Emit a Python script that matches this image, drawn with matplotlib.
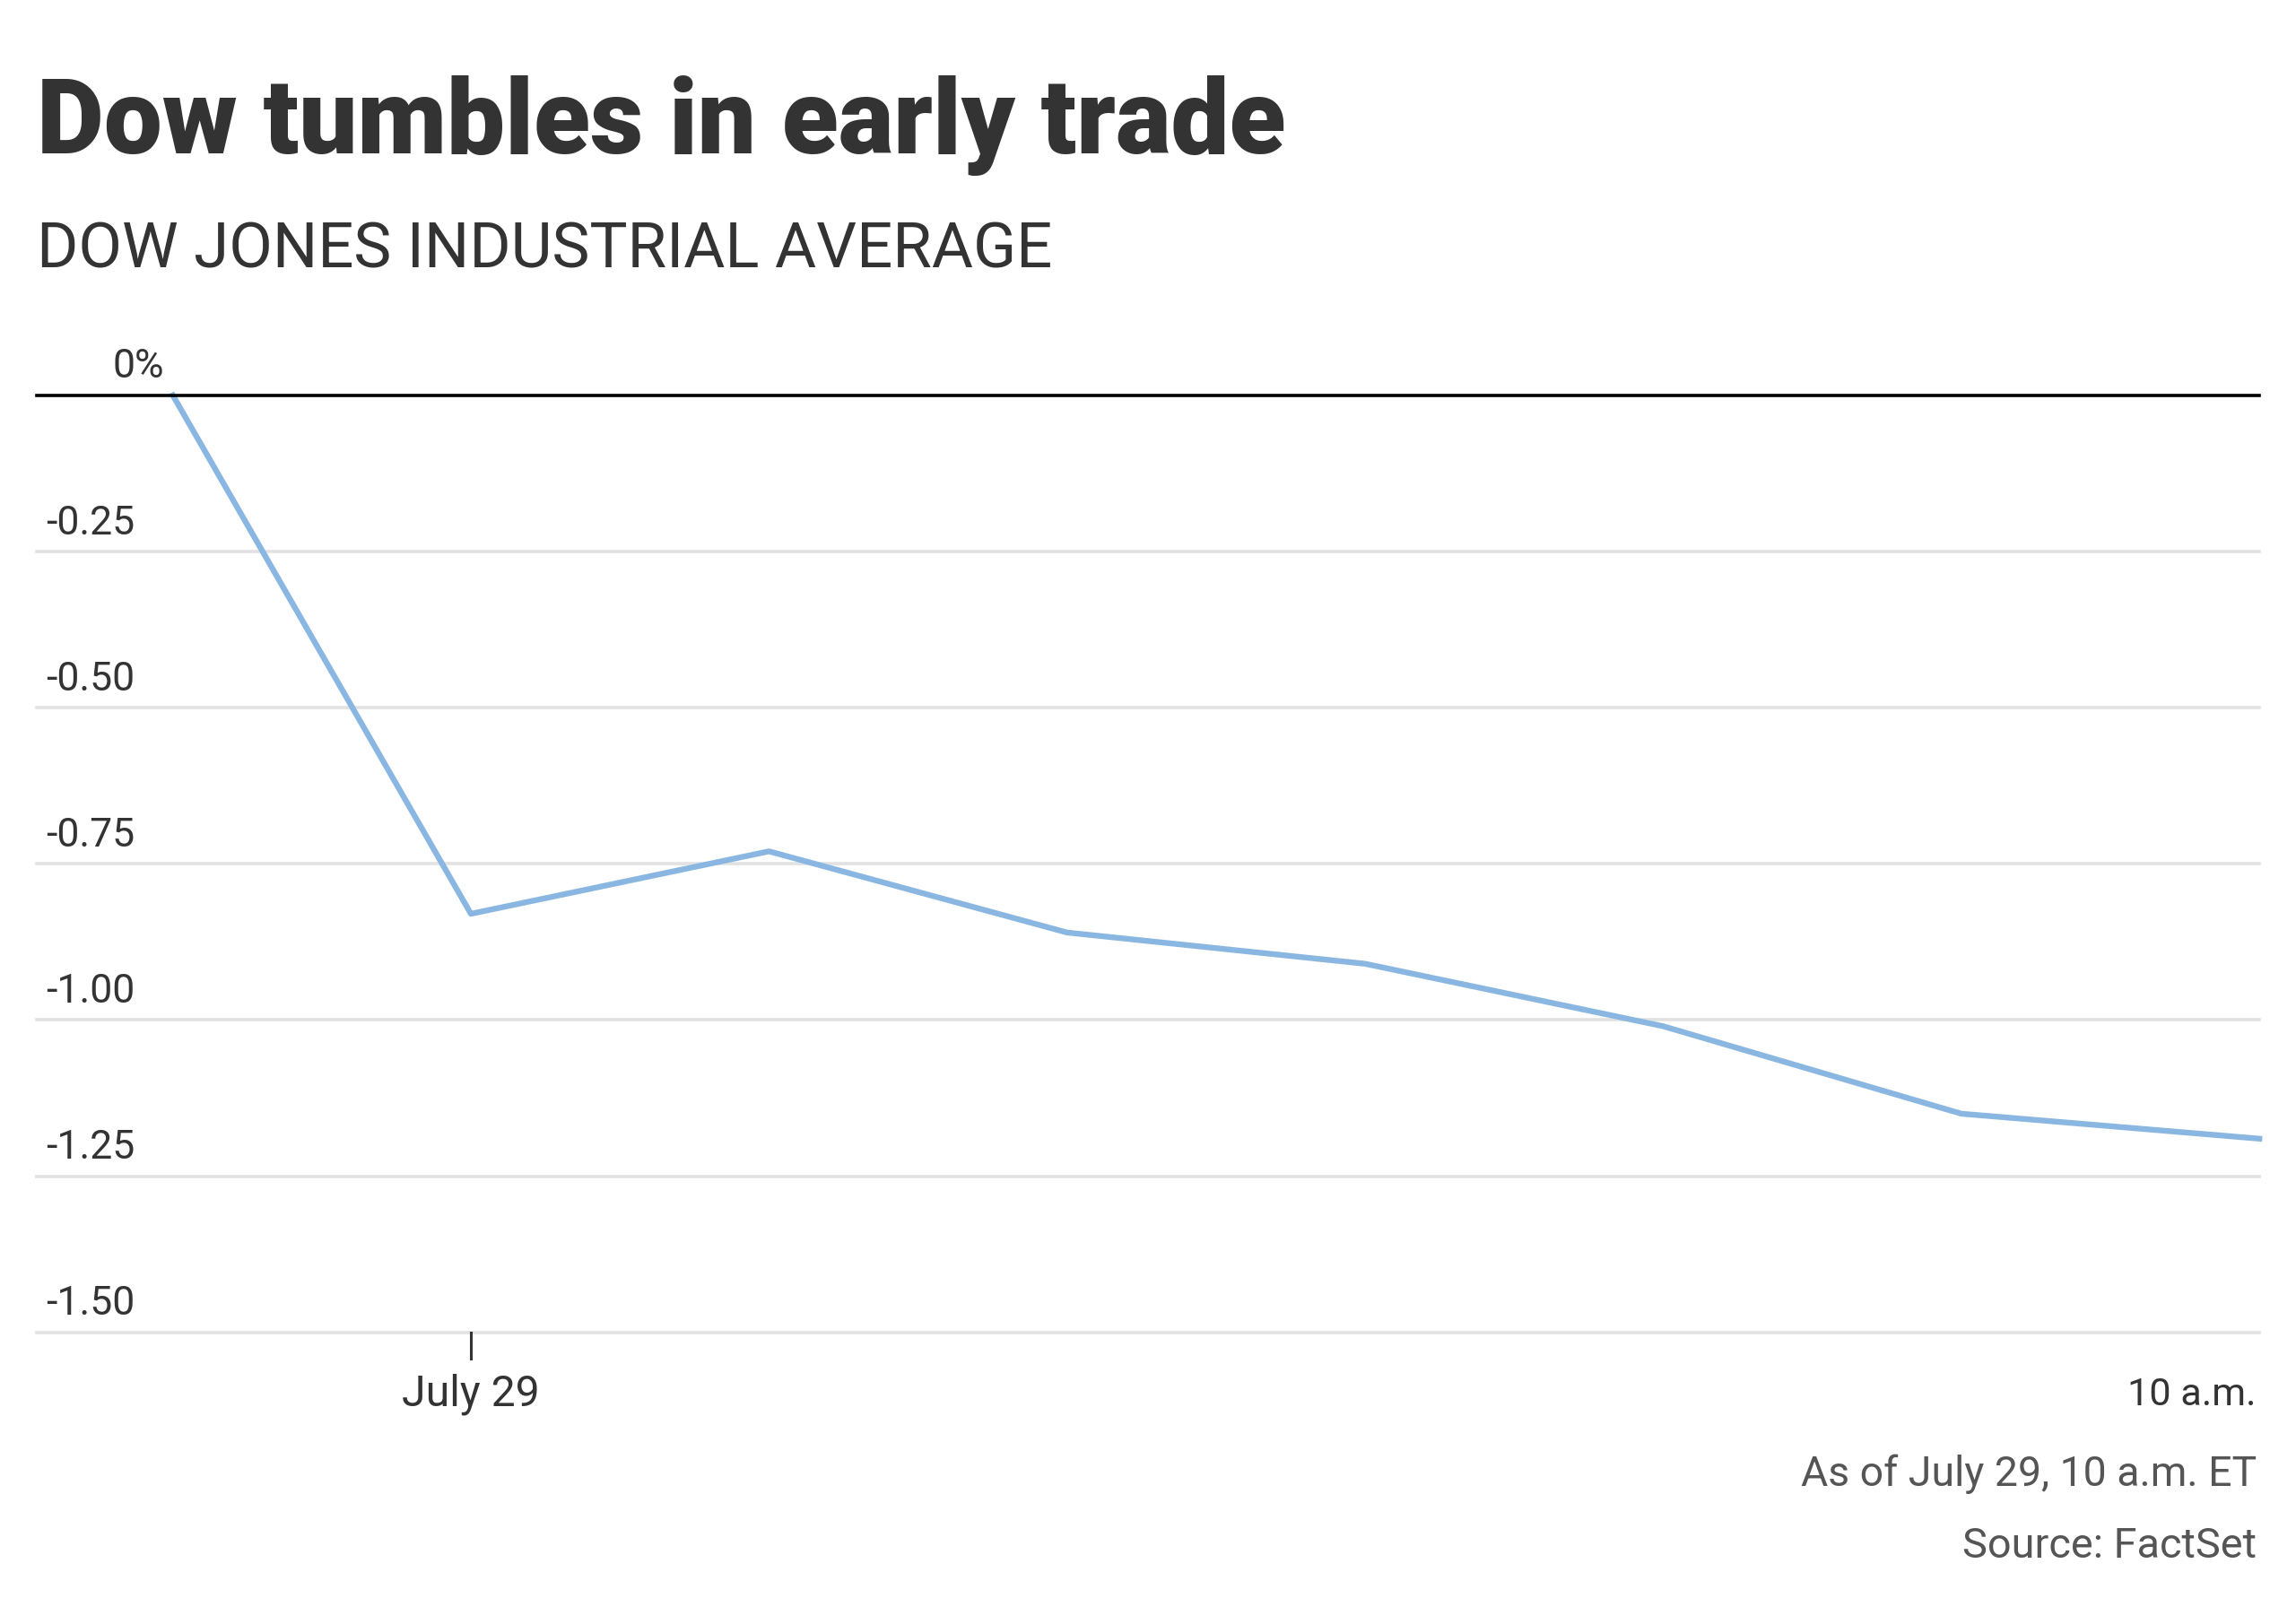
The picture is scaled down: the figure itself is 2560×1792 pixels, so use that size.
"""Dow intraday change chart."""
import matplotlib
matplotlib.use("Agg")
import matplotlib.pyplot as plt

# Data
steps = [0, 1, 2, 3, 4, 5, 6, 7]
pct_change = [0.0, -0.83, -0.73, -0.86, -0.91, -1.01, -1.15, -1.19]
ytick_values = [-0.25, -0.50, -0.75, -1.00, -1.25, -1.50]
ytick_labels = ["-0.25", "-0.50", "-0.75", "-1.00", "-1.25", "-1.50"]
xtick_pos = [1]
xtick_labels = ["July 29"]

TITLE = "Dow tumbles in early trade"
SUBTITLE = "DOW JONES INDUSTRIAL AVERAGE"
NOTE = "As of July 29, 10 a.m. ET"
SOURCE = "Source: FactSet"

W, H = 2560, 1792
S = W / 1568  # reference was measured at 1568 px wide

FAMILY = ["Roboto", "DejaVu Sans"]

TXT = "#333333"
GREY = "#555555"
LINE = "#8ab7e1"
GRID = "#e2e2e2"

fig = plt.figure(figsize=(W / 100, H / 100), dpi=100)
fig.patch.set_facecolor("white")


def fx(px):
    return px / 1568


def fy(py):
    return 1 - py / 1097.6


left, right = fx(25), fx(1543)
top, bottom = fy(270), fy(910)
ax = fig.add_axes([left, bottom, right - left, top - bottom])
ax.set_xlim(-0.457, 7)
ax.set_ylim(-1.5, 0)
for s in ax.spines.values():
    s.set_visible(False)
ax.set_yticks([])
ax.set_xticks([])

# grid lines + zero line
for v in ytick_values:
    ax.axhline(v, color=GRID, lw=2.6, clip_on=False, zorder=1)
ax.axhline(0, color="black", lw=2.6, clip_on=False, zorder=3)

ax.plot(steps, pct_change, color=LINE, lw=4.6, clip_on=False, zorder=2,
        solid_joinstyle="round")

renderer = fig.canvas.get_renderer()


def fit(t, width_px):
    """Scale font size so the text spans the measured width."""
    w = t.get_window_extent(renderer).width
    t.set_fontsize(t.get_fontsize() * width_px / w)
    return t


# y labels (numbers right aligned, % sign hanging out)
ylab_x = fx(92)
for v, lab in zip(ytick_values, ytick_labels):
    ax.annotate(lab, xy=(ylab_x, v), xycoords=("figure fraction", "data"),
                xytext=(0, 14), textcoords="offset points",
                ha="right", va="baseline", color=TXT, fontsize=32,
                family=FAMILY)
ax.annotate("0", xy=(ylab_x, 0), xycoords=("figure fraction", "data"),
            xytext=(0, 14), textcoords="offset points",
            ha="right", va="baseline", color=TXT, fontsize=32, family=FAMILY)
ax.annotate("%", xy=(ylab_x, 0), xycoords=("figure fraction", "data"),
            xytext=(0, 14), textcoords="offset points",
            ha="left", va="baseline", color=TXT, fontsize=32, family=FAMILY)

# x tick
for p, lab in zip(xtick_pos, xtick_labels):
    ax.plot([p, p], [-1.5, -1.5 - 18 / 640 * 1.5], color=TXT, lw=2.2,
            clip_on=False)
    t = fig.text(0, fy(960), lab, ha="center", va="baseline", color=TXT,
                 fontsize=29, family=FAMILY)
    t.set_x(fig.transFigure.inverted().transform(ax.transData.transform((p, 0)))[0])
    fit(t, 94 * S)
t = fig.text(fx(1541), fy(960), "10 a.m.", ha="right", va="baseline",
             color=TXT, fontsize=29, family=FAMILY)
fit(t, 88 * S)

# titles
t = fig.text(fx(25), fy(105), TITLE, ha="left", va="baseline", color=TXT,
             fontsize=90, fontweight="heavy", family=FAMILY)
fit(t, 853 * S)
t = fig.text(fx(25), fy(183), SUBTITLE, ha="left", va="baseline", color=TXT,
             fontsize=55, family=FAMILY)
fit(t, 693 * S)

# footer
t = fig.text(fx(1541), fy(1015), NOTE, ha="right", va="baseline", color=GREY,
             fontsize=36, family=FAMILY)
fit(t, 311 * S)
t = fig.text(fx(1541), fy(1064), SOURCE, ha="right", va="baseline", color=GREY,
             fontsize=36, family=FAMILY)
fit(t, 201 * S)

fig.savefig("out.png", dpi=100, facecolor="white")
